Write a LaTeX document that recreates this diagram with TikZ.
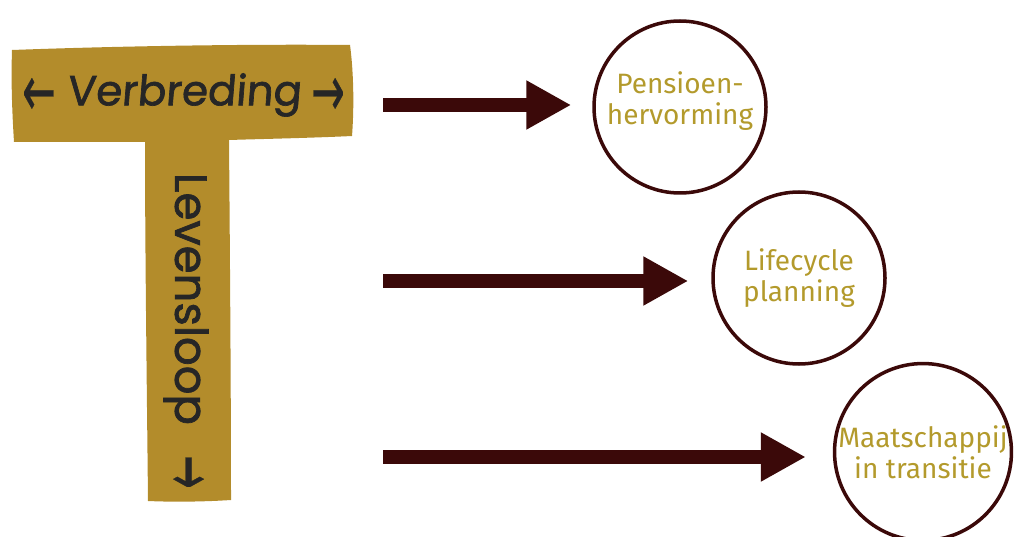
\documentclass[tikz,border=0pt]{standalone}
\usepackage{fontspec}
\setmainfont{Fira Sans}
\newfontfamily\handfont{Poppins}[FakeBold=1.6, FakeSlant=0.08]
\newfontfamily\handfontup{Poppins}[FakeBold=1.6]
\newfontfamily\symfont{DejaVu Sans}[FakeBold=0.4]
\usetikzlibrary{arrows.meta}
\definecolor{tgold}{HTML}{B38C2B}
\definecolor{txtgold}{HTML}{B39A2C}
\definecolor{darkmaroon}{HTML}{3B0909}
\tikzset{
  circlenode/.style={circle, draw=darkmaroon, line width=3.5pt, minimum size=172pt, inner sep=0pt,
    text=txtgold, align=center, font=\fontsize{28}{31}\selectfont},
  circletext/.style={text=txtgold, align=center, inner sep=0pt, font=\fontsize{28}{31}\selectfont},
  bigarrow/.style={draw=darkmaroon, line width=14pt,
    -{Triangle[length=45pt,width=46pt,fill=darkmaroon]}},
  handtext/.style={text=black!85, inner sep=0pt, font=\handfont\fontsize{42}{48}\selectfont},
  handtextup/.style={text=black!85, inner sep=0pt, font=\handfontup\fontsize{45}{50}\selectfont},
  symtext/.style={text=black!85, inner sep=0pt, font=\symfont\fontsize{40}{46}\selectfont}
}
\begin{document}
\begin{tikzpicture}[x=1pt,y=-1pt]
\useasboundingbox (0,0) rectangle (1014,537);
% T shape
\fill[tgold] (12,50) .. controls (120,46) and (250,44) .. (350,45)
  .. controls (354,75) and (354,110) .. (352,136)
  .. controls (310,138) and (260,139) .. (229,140)
  .. controls (230,260) and (231,400) .. (231,500)
  .. controls (200,502) and (170,502) .. (148,501)
  .. controls (147,400) and (145,250) .. (145,142)
  .. controls (100,142) and (50,142) .. (14,142)
  .. controls (12,110) and (11,80) .. (12,50) -- cycle;
\node[symtext] (la) at (39,97) {\scalebox{1}[1.8]{←}};
\node[handtext] (verb) at (184,95) {Verbreding};
\node[symtext] (ra) at (328,97) {\scalebox{1}[1.8]{→}};
\node[handtextup, rotate=-90] (lev) at (186,299) {Levensloop};
\node[symtext, rotate=-90] (da) at (185,472) {\scalebox{1}[1.8]{→}};
% circles
\node[circlenode] (c1) at (680,107) {};
\node[circletext] (t1) at ([yshift=6pt]c1.center) {Pensioen-\\hervorming};
\node[circlenode] (c2) at (799,278) {Lifecycle\\planning};
\node[circlenode] (c3) at (923,452) {Maatschappij\\in transitie};
% arrows
\coordinate (s1) at (383,105);
\coordinate (s2) at (383,281);
\coordinate (s3) at (383,457);
\draw[bigarrow, shorten >=21pt] (s1) -- (s1 -| c1.west);
\draw[bigarrow, shorten >=23pt] (s2) -- (s2 -| c2.west);
\draw[bigarrow, shorten >=27pt] (s3) -- (s3 -| c3.west);
\end{tikzpicture}
\end{document}
